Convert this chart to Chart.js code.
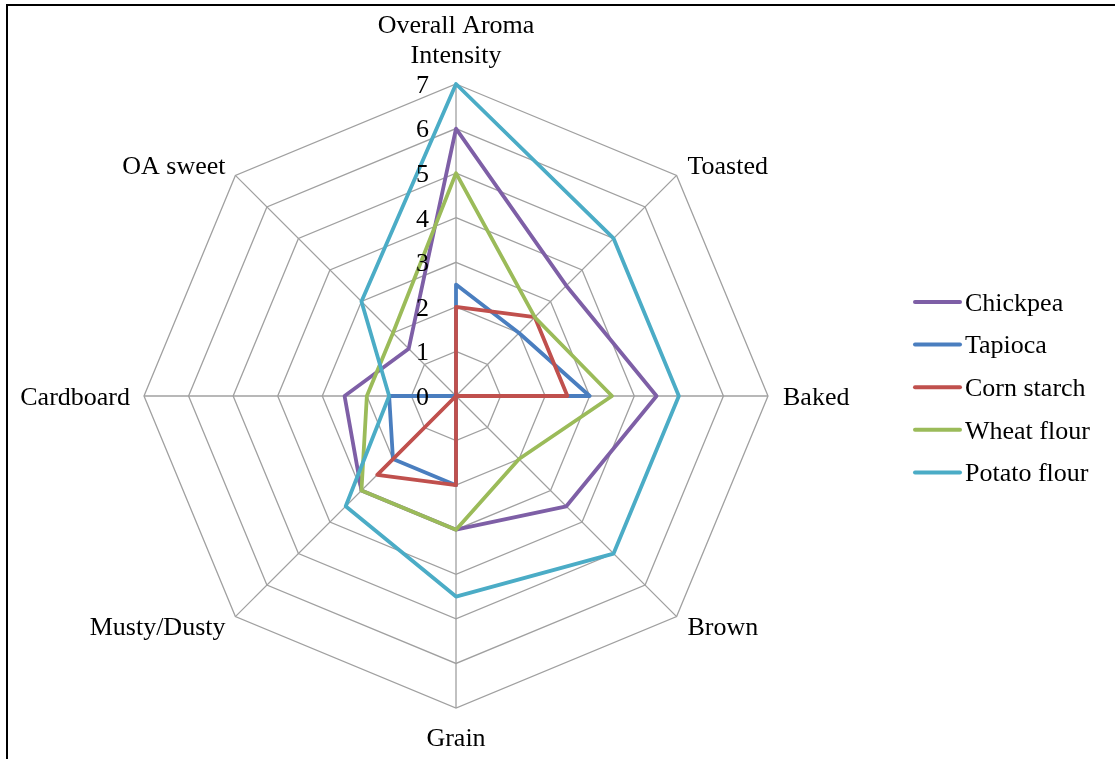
<!DOCTYPE html>
<html>
<head>
<meta charset="utf-8">
<script src="https://cdn.jsdelivr.net/npm/chart.js@4/dist/chart.umd.min.js"></script>
<style>
  html, body { margin: 0; padding: 0; background: #ffffff; }
  canvas { display: block; }
</style>
</head>
<body>
<canvas id="chart" width="1115" height="759"></canvas>
<script>
// Aroma attributes (spokes of the radar)
const attributes = [
  ['Overall Aroma', 'Intensity'],
  'Toasted',
  'Baked',
  'Brown',
  'Grain',
  'Musty/Dusty',
  'Cardboard',
  'OA sweet'
];

// Sensory scores per flour
const chickpea    = [6,   3.5, 4.5, 3.5, 3,   3,   2.5, 1.5];
const tapioca     = [2.5, 2,   3,   0,   2,   2,   1.5, 0];
const cornStarch  = [2,   2.5, 2.5, 0,   2,   2.5, 0,   0];
const wheatFlour  = [5,   2.5, 3.5, 2,   3,   3,   2,   2];
const potatoFlour = [7,   5,   5,   5,   4.5, 3.5, 1.5, 3];

const seriesNames  = ['Chickpea', 'Tapioca', 'Corn starch', 'Wheat flour', 'Potato flour'];
const seriesValues = [chickpea, tapioca, cornStarch, wheatFlour, potatoFlour];
const seriesColors = ['#7E5FA6', '#4A7EBF', '#C0504D', '#9BBB59', '#4BACC6'];

// Scale ticks shown along the vertical spoke
const tickValues = [0, 1, 2, 3, 4, 5, 6, 7];

const FONT = '26px "Liberation Serif", "Times New Roman", serif';
const TEXT_NUDGE = 2;   // optical centring of serif text on its anchor

const datasets = seriesNames.map((name, i) => ({
  label: name,
  data: seriesValues[i],
  borderColor: seriesColors[i],
  backgroundColor: seriesColors[i],
  borderWidth: 3.8,
  fill: false,
  tension: 0,
  pointRadius: 0,
  pointHoverRadius: 0,
  borderJoinStyle: 'round',
  order: seriesNames.length - i   // later series painted on top
}));

// Frame, spoke labels, tick labels and legend
const decorations = {
  id: 'decorations',
  beforeDraw(chart) {
    const ctx = chart.ctx;
    ctx.save();
    ctx.strokeStyle = '#000000';
    ctx.lineWidth = 2;
    ctx.beginPath();
    ctx.moveTo(7, 759);
    ctx.lineTo(7, 5);
    ctx.lineTo(1115, 5);
    ctx.stroke();
    ctx.restore();
  },
  afterDraw(chart) {
    const ctx = chart.ctx;
    const scale = chart.scales.r;
    const R = scale.drawingArea;
    ctx.save();
    ctx.font = FONT;
    ctx.fillStyle = '#000000';

    // spoke labels
    attributes.forEach((lab, i) => {
      const p = scale.getPointPosition(i, R + 14);
      const lines = Array.isArray(lab) ? lab : [lab];
      const dx = p.x - scale.xCenter;
      const dy = p.y - scale.yCenter;
      const y0 = p.y + TEXT_NUDGE;
      ctx.textBaseline = 'middle';
      if (Math.abs(dx) < 1) {
        ctx.textAlign = 'center';
        if (dy < 0) {
          lines.forEach((ln, k) => {
            ctx.fillText(ln, p.x, y0 - 16 - (lines.length - 1 - k) * 30);
          });
        } else {
          lines.forEach((ln, k) => ctx.fillText(ln, p.x, y0 + 15 + k * 30));
        }
      } else {
        ctx.textAlign = dx > 0 ? 'left' : 'right';
        lines.forEach((ln, k) => ctx.fillText(ln, p.x + (dx > 0 ? 1 : 0), y0 + k * 30));
      }
    });

    // tick labels beside the vertical spoke
    ctx.textAlign = 'right';
    ctx.textBaseline = 'middle';
    tickValues.forEach(v => {
      const d = scale.getDistanceFromCenterForValue(v);
      ctx.fillText(String(v), scale.xCenter - 27, scale.yCenter - d + TEXT_NUDGE);
    });

    // legend
    const lx0 = 915, lx1 = 960, tx = 965, ly0 = 302, step = 42.6;
    chart.data.datasets.forEach((ds, i) => {
      const y = ly0 + i * step;
      ctx.strokeStyle = ds.borderColor;
      ctx.lineWidth = 4;
      ctx.lineCap = 'round';
      ctx.beginPath();
      ctx.moveTo(lx0, y);
      ctx.lineTo(lx1, y);
      ctx.stroke();
      ctx.textAlign = 'left';
      ctx.fillStyle = '#000000';
      ctx.fillText(ds.label, tx, y + TEXT_NUDGE);
    });
    ctx.restore();
  }
};

new Chart(document.getElementById('chart'), {
  type: 'radar',
  data: { labels: attributes, datasets },
  options: {
    responsive: false,
    devicePixelRatio: 1,
    animation: false,
    layout: { padding: { left: 144, top: 84, right: 347, bottom: 51 } },
    plugins: {
      legend: { display: false },
      tooltip: { enabled: false }
    },
    scales: {
      r: {
        min: 0,
        max: 7,
        ticks: { stepSize: 1, display: false },
        grid: { color: '#A0A0A0', lineWidth: 1.3, circular: false },
        angleLines: { color: '#A0A0A0', lineWidth: 1.3 },
        pointLabels: { display: false }
      }
    }
  },
  plugins: [decorations]
});
</script>
</body>
</html>
